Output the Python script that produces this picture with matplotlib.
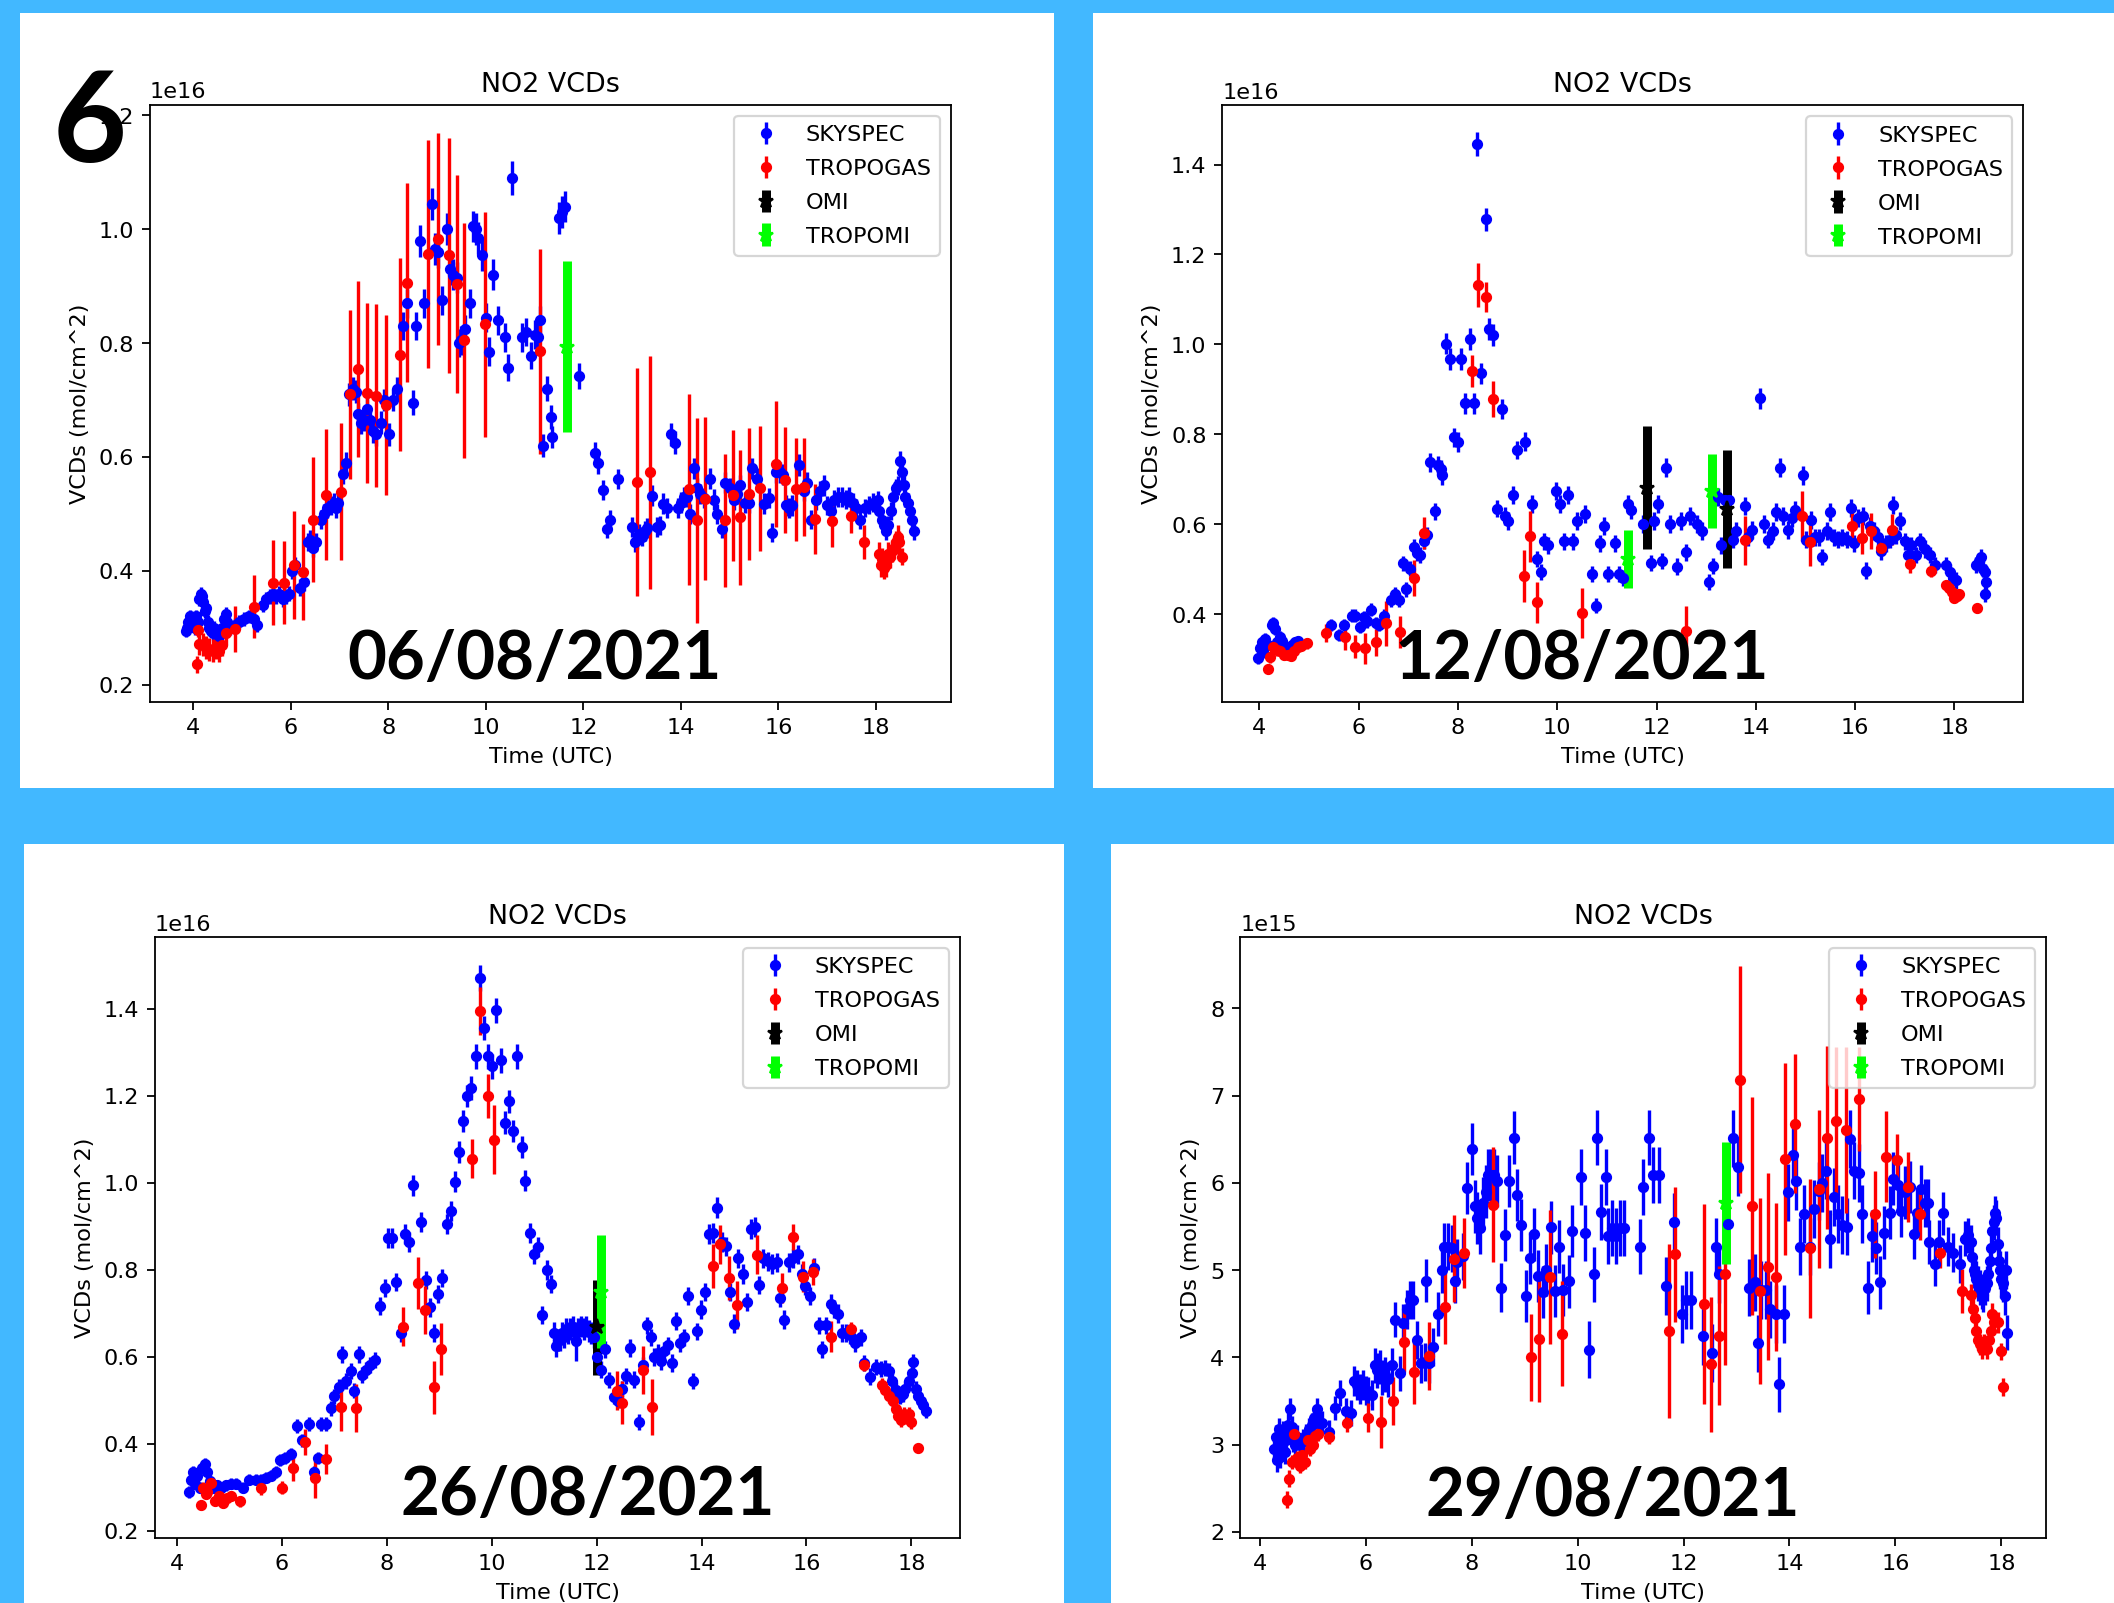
import numpy as np
import matplotlib.pyplot as plt
from matplotlib.patches import Rectangle

W, H = 2114, 1603
DPI = 161.5   # each panel is a default 6.4x4.8 figure blown up ~1.6x

# ---------------- data: (time UTC, VCD, error) ----------------
# 06/08/2021, VCD in 1e16 molec/cm^2
sky_0608 = [
    (3.85, .295, .012), (3.88, .30, .012), (3.9, .31, .012), (3.93, .32, .012), (3.96, .305, .012),
    (4.0, .315, .012), (4.03, .30, .012), (4.06, .32, .012), (4.1, .31, .012), (4.13, .35, .012),
    (4.16, .36, .012), (4.19, .355, .012), (4.21, .345, .012), (4.24, .33, .012), (4.27, .335, .012),
    (4.3, .31, .012), (4.33, .30, .012), (4.36, .295, .012), (4.4, .29, .012), (4.43, .30, .012),
    (4.47, .295, .012), (4.5, .29, .012), (4.53, .285, .012), (4.56, .29, .012), (4.6, .30, .012),
    (4.63, .315, .012), (4.67, .325, .012), (4.7, .31, .012), (4.75, .30, .012), (4.85, .305, .012),
    (4.95, .31, .012), (5.05, .315, .012), (5.15, .32, .012), (5.25, .315, .012), (5.32, .305, .012),
    (5.43, .34, .013), (5.5, .35, .013), (5.57, .355, .013), (5.63, .36, .013), (5.7, .355, .013),
    (5.77, .36, .013), (5.84, .35, .013), (5.9, .355, .013), (5.97, .36, .013), (6.02, .40, .015),
    (6.08, .41, .015), (6.2, .37, .015), (6.27, .38, .015), (6.35, .45, .016), (6.4, .455, .016),
    (6.45, .44, .016), (6.52, .45, .016), (6.62, .49, .017), (6.68, .50, .017), (6.75, .51, .017),
    (6.82, .515, .017), (6.88, .52, .017), (6.93, .51, .017), (6.98, .52, .017), (7.07, .57, .018),
    (7.14, .59, .018), (7.2, .71, .02), (7.28, .72, .02), (7.33, .715, .02), (7.38, .675, .02),
    (7.44, .66, .02), (7.5, .665, .02), (7.56, .685, .02), (7.62, .665, .02), (7.68, .645, .02),
    (7.74, .64, .02), (7.85, .66, .02), (7.92, .70, .02), (8.02, .64, .02), (8.1, .70, .02),
    (8.17, .72, .02), (8.3, .83, .025), (8.38, .87, .025), (8.5, .695, .022), (8.57, .83, .025),
    (8.66, .98, .028), (8.74, .87, .025), (8.89, 1.045, .028), (8.95, .965, .028), (9.02, .96, .028),
    (9.11, .875, .025), (9.2, 1.0, .028), (9.26, .93, .027), (9.32, .92, .027), (9.4, .915, .027),
    (9.46, .80, .025), (9.5, .805, .025), (9.57, .825, .025), (9.68, .87, .025), (9.73, 1.005, .028),
    (9.79, 1.0, .028), (9.85, .985, .028), (9.92, .955, .028), (10.0, .845, .025), (10.07, .785, .025),
    (10.15, .92, .027), (10.24, .84, .025), (10.39, .81, .025), (10.45, .757, .024), (10.54, 1.09, .03),
    (10.75, .81, .025), (10.82, .82, .025), (10.93, .778, .024), (11.0, .815, .025), (11.06, .81, .025),
    (11.12, .84, .025), (11.17, .62, .02), (11.25, .72, .022), (11.33, .67, .021), (11.36, .635, .02),
    (11.5, 1.02, .028), (11.57, 1.03, .028), (11.62, 1.04, .028), (11.92, .742, .023), (12.24, .607, .02),
    (12.3, .59, .02), (12.4, .542, .018), (12.48, .474, .017), (12.54, .49, .017), (12.72, .561, .018),
    (13.0, .477, .017), (13.05, .45, .017), (13.1, .455, .017), (13.15, .465, .017), (13.2, .46, .017),
    (13.26, .47, .017), (13.31, .475, .017), (13.4, .532, .018), (13.5, .477, .017), (13.57, .48, .017),
    (13.64, .518, .018), (13.72, .51, .018), (13.8, .64, .02), (13.87, .625, .02), (13.93, .51, .018),
    (14.0, .52, .018), (14.06, .53, .018), (14.12, .53, .018), (14.19, .50, .017), (14.26, .58, .019),
    (14.33, .545, .018), (14.4, .535, .018), (14.47, .528, .018), (14.6, .562, .018), (14.67, .525, .018),
    (14.74, .50, .017), (14.84, .474, .017), (14.91, .555, .018), (15.0, .545, .018), (15.08, .525, .018),
    (15.15, .535, .018), (15.22, .55, .018), (15.32, .52, .018), (15.39, .52, .018), (15.46, .58, .019),
    (15.56, .562, .018), (15.7, .518, .018), (15.8, .528, .018), (15.87, .467, .017), (15.94, .573, .019),
    (16.04, .573, .019), (16.1, .569, .019), (16.16, .515, .018), (16.22, .51, .018), (16.28, .515, .018),
    (16.42, .586, .019), (16.52, .54, .018), (16.59, .555, .018), (16.66, .49, .017), (16.77, .525, .018),
    (16.85, .54, .018), (16.93, .55, .018), (17.0, .515, .017), (17.07, .505, .017), (17.14, .525, .017),
    (17.22, .53, .017), (17.3, .53, .017), (17.38, .525, .017), (17.45, .53, .017), (17.52, .52, .017),
    (17.58, .51, .017), (17.68, .49, .016), (17.78, .51, .016), (17.86, .515, .016), (17.94, .52, .016),
    (18.03, .525, .016), (18.07, .505, .016), (18.12, .49, .016), (18.17, .48, .016), (18.21, .47, .016),
    (18.25, .48, .016), (18.3, .505, .016), (18.35, .53, .017), (18.4, .545, .017), (18.45, .55, .017),
    (18.5, .593, .018), (18.53, .573, .018), (18.57, .55, .017), (18.6, .53, .017), (18.65, .52, .017),
    (18.7, .505, .017), (18.74, .49, .016), (18.78, .47, .016),
]
trop_0608 = [
    (4.07, .236, .015), (4.1, .296, .012), (4.13, .272, .02), (4.2, .27, .02), (4.27, .265, .02),
    (4.33, .262, .02), (4.4, .26, .02), (4.47, .265, .02), (4.53, .26, .02), (4.6, .27, .02),
    (4.67, .29, .02), (4.85, .298, .04), (5.25, .337, .055), (5.64, .379, .075), (5.86, .379, .073),
    (6.06, .41, .095), (6.26, .398, .085), (6.45, .49, .11), (6.73, .534, .115), (7.04, .539, .12),
    (7.22, .71, .148), (7.39, .755, .155), (7.56, .713, .158), (7.74, .708, .16), (7.96, .692, .158),
    (8.24, .78, .17), (8.38, .906, .175), (8.81, .957, .2), (9.01, .983, .187), (9.25, .954, .207),
    (9.4, .904, .192), (9.56, .805, .206), (9.99, .833, .197), (11.12, .786, .18), (13.1, .556, .2),
    (13.37, .573, .205), (14.16, .543, .168), (14.32, .489, .18), (14.5, .527, .143), (14.91, .489, .117),
    (15.07, .533, .115), (15.22, .494, .118), (15.4, .535, .116), (15.63, .545, .11), (15.95, .588, .111),
    (16.13, .559, .093), (16.35, .543, .09), (16.53, .547, .086), (16.75, .491, .062), (17.1, .487, .045),
    (17.48, .497, .03), (17.75, .45, .03), (18.06, .43, .02), (18.1, .41, .02), (18.13, .42, .02),
    (18.17, .405, .02), (18.2, .41, .02), (18.24, .43, .02), (18.28, .425, .02), (18.32, .435, .02),
    (18.36, .44, .02), (18.4, .45, .02), (18.44, .46, .02), (18.47, .45, .02), (18.53, .425, .015),
]
omi_0608 = []
tropomi_0608 = [(11.66, .794, .15)]

# 12/08/2021, VCD in 1e16
sky_1208 = [
    (3.97, .302, .012), (4.01, .324, .012), (4.05, .337, .012), (4.08, .315, .012), (4.11, .345, .012),
    (4.18, .332, .012), (4.25, .376, .013), (4.28, .38, .013), (4.32, .367, .013), (4.35, .337, .012),
    (4.42, .35, .012), (4.45, .341, .012), (4.52, .328, .012), (4.59, .324, .012), (4.65, .332, .012),
    (4.72, .337, .012), (4.77, .34, .012), (5.45, .376, .013), (5.6, .354, .013), (5.7, .376, .013),
    (5.87, .397, .014), (5.93, .397, .014), (6.02, .371, .013), (6.1, .393, .014), (6.17, .384, .014),
    (6.24, .41, .014), (6.34, .38, .014), (6.4, .376, .014), (6.5, .397, .014), (6.64, .432, .015),
    (6.73, .445, .015), (6.81, .432, .015), (6.89, .513, .017), (6.96, .455, .016), (7.04, .501, .017),
    (7.12, .549, .018), (7.18, .536, .018), (7.23, .532, .018), (7.31, .562, .018), (7.37, .575, .018),
    (7.43, .738, .021), (7.53, .629, .019), (7.6, .731, .021), (7.65, .722, .021), (7.68, .709, .021),
    (7.76, 1.002, .024), (7.84, .967, .024), (7.92, .793, .022), (8.0, .783, .022), (8.07, .967, .024),
    (8.15, .869, .023), (8.24, 1.012, .024), (8.32, .869, .023), (8.39, 1.445, .027), (8.47, .936, .023),
    (8.56, 1.278, .026), (8.63, 1.034, .024), (8.71, 1.021, .024), (8.79, .635, .02), (8.88, .856, .022),
    (8.94, .618, .02), (9.0, .607, .02), (9.11, .666, .02), (9.19, .765, .021), (9.35, .784, .021),
    (9.5, .644, .02), (9.59, .523, .018), (9.67, .493, .018), (9.74, .562, .019), (9.82, .553, .019),
    (9.97, .673, .02), (10.06, .644, .02), (10.14, .562, .019), (10.22, .666, .02), (10.31, .562, .019),
    (10.39, .607, .02), (10.55, .623, .02), (10.69, .49, .018), (10.78, .419, .017), (10.86, .558, .019),
    (10.94, .595, .02), (11.02, .49, .018), (11.17, .558, .019), (11.25, .49, .018), (11.33, .48, .018),
    (11.42, .644, .02), (11.48, .631, .02), (11.72, .60, .02), (11.88, .514, .018), (11.95, .607, .02),
    (12.03, .644, .02), (12.11, .519, .018), (12.19, .726, .021), (12.27, .60, .02), (12.42, .506, .018),
    (12.5, .607, .02), (12.59, .538, .019), (12.67, .618, .02), (12.82, .60, .02), (12.91, .584, .02),
    (13.05, .471, .018), (13.14, .507, .018), (13.23, .661, .02), (13.3, .553, .019), (13.38, .653, .02),
    (13.46, .653, .02), (13.53, .566, .019), (13.61, .584, .02), (13.78, .64, .02), (13.85, .571, .019),
    (13.93, .588, .02), (14.08, .88, .023), (14.16, .601, .02), (14.25, .566, .019), (14.34, .584, .02),
    (14.4, .627, .02), (14.48, .726, .021), (14.55, .618, .02), (14.65, .588, .02), (14.72, .614, .02),
    (14.79, .631, .02), (14.95, .709, .021), (15.02, .566, .019), (15.12, .61, .02), (15.19, .571, .019),
    (15.28, .571, .019), (15.34, .527, .018), (15.44, .584, .02), (15.5, .627, .02), (15.57, .571, .019),
    (15.66, .566, .019), (15.74, .571, .019), (15.83, .566, .019), (15.91, .636, .02), (15.97, .558, .019),
    (16.06, .614, .02), (16.15, .618, .02), (16.21, .497, .018), (16.3, .597, .02), (16.38, .584, .02),
    (16.46, .571, .019), (16.53, .54, .019), (16.62, .558, .019), (16.7, .566, .019), (16.77, .642, .02),
    (16.83, .575, .019), (16.91, .607, .02), (17.0, .562, .019), (17.07, .532, .018), (17.13, .553, .019),
    (17.22, .532, .018), (17.3, .562, .019), (17.4, .545, .019), (17.5, .532, .018), (17.6, .51, .018),
    (17.84, .51, .018), (17.91, .493, .018), (17.97, .48, .018), (18.04, .475, .018), (18.44, .51, .018),
    (18.5, .519, .018), (18.54, .527, .018), (18.58, .501, .018), (18.61, .493, .018), (18.63, .471, .018),
    (18.61, .445, .017),
]
trop_1208 = [
    (4.17, .279, .01), (4.22, .304, .012), (4.28, .326, .012), (4.35, .32, .012), (4.42, .318, .012),
    (4.5, .31, .012), (4.57, .31, .012), (4.63, .307, .012), (4.7, .318, .012), (4.77, .327, .012),
    (4.83, .33, .012), (4.96, .335, .012), (5.35, .357, .02), (5.73, .35, .03), (5.93, .328, .025),
    (6.13, .324, .035), (6.34, .337, .03), (6.54, .38, .05), (6.83, .36, .035), (7.12, .481, .04),
    (7.31, .581, .035), (8.28, .941, .035), (8.4, 1.132, .049), (8.56, 1.106, .033), (8.71, .878, .04),
    (9.32, .484, .058), (9.45, .573, .057), (9.6, .426, .045), (10.5, .402, .056), (12.6, .363, .056),
    (13.78, .564, .054), (14.92, .618, .056), (15.09, .56, .053), (15.93, .597, .035), (16.13, .569, .035),
    (16.33, .586, .04), (16.53, .547, .015), (16.75, .588, .035), (17.11, .512, .02), (17.52, .497, .015),
    (17.84, .464, .01), (17.9, .458, .01), (17.95, .45, .01), (18.0, .435, .01), (18.05, .44, .01),
    (18.1, .445, .01), (18.46, .413, .01),
]
omi_1208 = [(11.8, .681, .137), (13.42, .634, .132)]
tropomi_1208 = [(11.43, .523, .065), (13.11, .674, .082)]

# 26/08/2021, VCD in 1e16
sky_2608 = [
    (4.23, .29, .013), (4.26, .318, .013), (4.3, .336, .013), (4.34, .309, .013), (4.38, .327, .013),
    (4.43, .30, .013), (4.48, .345, .013), (4.53, .355, .013), (4.58, .336, .013), (4.63, .314, .013),
    (4.68, .30, .013), (4.76, .305, .013), (4.83, .30, .013), (4.93, .305, .013), (5.03, .309, .013),
    (5.13, .309, .013), (5.26, .30, .013), (5.38, .318, .013), (5.5, .318, .013), (5.6, .318, .013),
    (5.7, .323, .013), (5.8, .327, .013), (5.88, .336, .013), (5.96, .364, .014), (6.06, .368, .014),
    (6.18, .377, .014), (6.28, .441, .016), (6.38, .409, .015), (6.51, .445, .016), (6.61, .336, .014),
    (6.68, .368, .014), (6.75, .445, .016), (6.83, .445, .016), (6.93, .482, .017), (7.0, .51, .017),
    (7.08, .532, .018), (7.15, .606, .019), (7.23, .545, .018), (7.31, .568, .018), (7.38, .523, .018),
    (7.46, .606, .019), (7.53, .559, .018), (7.6, .57, .018), (7.68, .582, .019), (7.78, .593, .019),
    (7.86, .718, .021), (7.96, .759, .021), (8.03, .873, .023), (8.1, .873, .023), (8.18, .773, .021),
    (8.26, .655, .02), (8.34, .882, .023), (8.42, .864, .023), (8.5, .995, .024), (8.65, .911, .023),
    (8.75, .777, .021), (8.83, .714, .021), (8.9, .655, .02), (8.98, .745, .021), (9.06, .782, .021),
    (9.14, .905, .023), (9.22, .936, .023), (9.3, 1.003, .024), (9.38, 1.071, .025), (9.45, 1.143, .026),
    (9.53, 1.20, .026), (9.61, 1.218, .027), (9.69, 1.291, .028), (9.77, 1.471, .03), (9.85, 1.356, .028),
    (9.93, 1.291, .028), (10.01, 1.268, .028), (10.09, 1.397, .029), (10.17, 1.282, .028), (10.25, 1.139, .026),
    (10.33, 1.188, .026), (10.41, 1.12, .026), (10.49, 1.291, .028), (10.57, 1.082, .025), (10.64, 1.005, .024),
    (10.72, .885, .023), (10.8, .836, .022), (10.88, .853, .022), (10.96, .697, .021), (11.05, .80, .022),
    (11.13, .768, .021), (11.18, .655, .025), (11.22, .625, .025), (11.26, .64, .025), (11.3, .64, .025),
    (11.34, .655, .025), (11.38, .645, .025), (11.42, .665, .025), (11.46, .655, .025), (11.5, .665, .025),
    (11.55, .67, .025), (11.61, .636, .045), (11.65, .665, .025), (11.7, .67, .025), (11.75, .665, .025),
    (11.8, .67, .025), (11.85, .66, .025), (11.9, .655, .025), (11.94, .645, .025), (12.01, .60, .02),
    (12.08, .571, .02), (12.16, .618, .02), (12.24, .547, .019), (12.33, .509, .018), (12.4, .50, .018),
    (12.48, .527, .018), (12.56, .556, .019), (12.64, .621, .02), (12.72, .548, .019), (12.8, .45, .018),
    (12.88, .582, .019), (12.96, .673, .02), (13.04, .645, .02), (13.1, .60, .02), (13.16, .61, .02),
    (13.22, .59, .02), (13.28, .614, .02), (13.36, .627, .02), (13.43, .586, .02), (13.51, .682, .021),
    (13.58, .632, .02), (13.66, .645, .02), (13.75, .741, .021), (13.83, .545, .019), (13.91, .659, .02),
    (13.98, .709, .021), (14.06, .75, .021), (14.14, .882, .023), (14.22, .886, .023), (14.3, .943, .024),
    (14.38, .864, .023), (14.46, .855, .022), (14.54, .75, .021), (14.62, .677, .021), (14.7, .827, .022),
    (14.78, .791, .022), (14.86, .727, .021), (14.94, .894, .023), (15.02, .898, .023), (15.1, .766, .021),
    (15.18, .827, .022), (15.26, .82, .022), (15.34, .814, .022), (15.43, .818, .022), (15.5, .736, .021),
    (15.58, .686, .021), (15.66, .818, .022), (15.74, .827, .022), (15.83, .836, .022), (15.91, .791, .022),
    (15.98, .764, .021), (16.06, .741, .021), (16.14, .805, .022), (16.23, .673, .02), (16.29, .618, .02),
    (16.38, .673, .02), (16.46, .723, .021), (16.53, .71, .021), (16.6, .70, .021), (16.68, .655, .02),
    (16.75, .655, .02), (16.83, .65, .02), (16.93, .632, .02), (17.03, .645, .02), (17.1, .586, .019),
    (17.22, .555, .019), (17.33, .577, .019), (17.42, .573, .019), (17.5, .575, .019), (17.58, .568, .019),
    (17.63, .545, .019), (17.7, .525, .018), (17.78, .509, .018), (17.84, .515, .018), (17.88, .527, .018),
    (17.95, .545, .019), (18.01, .564, .019), (18.03, .588, .019), (18.08, .527, .018), (18.13, .51, .018),
    (18.18, .50, .018), (18.23, .49, .018), (18.28, .477, .017),
]
trop_2608 = [
    (4.45, .259, .01), (4.5, .30, .012), (4.55, .285, .012), (4.58, .29, .012), (4.65, .31, .012),
    (4.72, .27, .012), (4.8, .28, .012), (4.88, .265, .012), (4.95, .275, .012), (5.03, .28, .012),
    (5.2, .268, .012), (5.6, .298, .015), (6.0, .30, .015), (6.21, .344, .03), (6.44, .405, .03),
    (6.63, .321, .045), (6.84, .366, .035), (7.12, .485, .055), (7.41, .482, .055), (8.3, .67, .045),
    (8.59, .77, .06), (8.72, .709, .055), (8.9, .53, .06), (9.03, .618, .06), (9.62, 1.056, .045),
    (9.77, 1.395, .055), (9.92, 1.20, .05), (10.04, 1.10, .08), (12.38, .523, .045), (12.48, .495, .05),
    (12.88, .571, .055), (13.05, .485, .065), (14.22, .809, .05), (14.36, .859, .045), (14.52, .782, .05),
    (14.68, .72, .055), (15.06, .835, .045), (15.54, .759, .035), (15.74, .875, .03), (15.93, .785, .035),
    (16.13, .795, .03), (16.46, .647, .035), (16.84, .665, .015), (17.1, .582, .015), (17.43, .536, .015),
    (17.5, .525, .015), (17.58, .51, .015), (17.65, .50, .015), (17.7, .48, .015), (17.75, .465, .015),
    (17.8, .455, .015), (17.85, .47, .015), (17.9, .46, .015), (17.95, .47, .015), (18.0, .45, .015),
    (18.13, .391, .01),
]
omi_2608 = [(12.0, .668, .109)]
tropomi_2608 = [(12.08, .75, .13)]

# 29/08/2021, VCD in 1e15
sky_2908 = [
    (4.27, 2.95, .13), (4.3, 3.09, .13), (4.33, 2.82, .13), (4.35, 3.0, .13), (4.37, 3.18, .13),
    (4.39, 2.86, .13), (4.41, 3.02, .13), (4.44, 3.14, .13), (4.47, 2.91, .13), (4.5, 3.05, .13),
    (4.54, 3.23, .13), (4.57, 3.41, .13), (4.6, 3.2, .13), (4.63, 3.05, .13), (4.66, 3.0, .13),
    (4.71, 3.09, .13), (4.76, 3.0, .13), (4.82, 3.05, .13), (4.88, 3.11, .13), (4.93, 3.18, .13),
    (4.98, 3.23, .13), (5.02, 3.3, .13), (5.07, 3.41, .13), (5.12, 3.25, .13), (5.18, 3.25, .13),
    (5.31, 3.15, .13), (5.42, 3.42, .14), (5.52, 3.59, .15), (5.62, 3.39, .15), (5.72, 3.36, .15),
    (5.78, 3.73, .17), (5.83, 3.68, .17), (5.89, 3.64, .17), (5.94, 3.68, .17), (6.0, 3.62, .17),
    (6.05, 3.61, .17), (6.11, 3.57, .17), (6.17, 3.91, .2), (6.22, 3.85, .2), (6.27, 3.89, .2),
    (6.3, 3.77, .2), (6.36, 3.8, .2), (6.42, 3.75, .2), (6.49, 3.91, .2), (6.56, 4.43, .2),
    (6.64, 3.82, .2), (6.71, 4.39, .22), (6.77, 4.55, .22), (6.83, 4.66, .22), (6.9, 4.66, .22),
    (6.97, 4.2, .22), (7.04, 3.93, .22), (7.12, 3.95, .22), (7.13, 4.88, .25), (7.2, 3.93, .22),
    (7.27, 4.12, .22), (7.36, 4.5, .25), (7.43, 5.0, .26), (7.48, 5.27, .27), (7.55, 5.27, .27),
    (7.62, 5.25, .27), (7.68, 4.88, .26), (7.73, 5.09, .27), (7.83, 5.16, .27), (7.92, 5.94, .3),
    (8.0, 6.39, .3), (8.06, 5.73, .3), (8.1, 5.6, .3), (8.16, 5.48, .3), (8.22, 5.77, .3),
    (8.27, 5.9, .3), (8.31, 6.09, .3), (8.36, 6.09, .3), (8.42, 6.09, .3), (8.48, 6.02, .3),
    (8.55, 4.8, .28), (8.63, 5.4, .3), (8.7, 6.02, .3), (8.79, 6.52, .3), (8.86, 5.86, .3),
    (8.94, 5.52, .3), (9.03, 4.7, .3), (9.1, 5.14, .3), (9.18, 5.41, .3), (9.26, 4.93, .3),
    (9.34, 4.75, .3), (9.4, 5.0, .3), (9.49, 5.49, .3), (9.57, 4.76, .3), (9.65, 5.27, .3),
    (9.72, 4.77, .3), (9.83, 4.87, .3), (9.89, 5.45, .3), (10.06, 6.07, .32), (10.14, 5.43, .32),
    (10.22, 4.09, .33), (10.3, 4.95, .32), (10.37, 6.52, .32), (10.45, 5.67, .32), (10.54, 6.07, .32),
    (10.58, 5.39, .32), (10.64, 5.48, .32), (10.72, 5.39, .32), (10.8, 5.48, .32), (10.87, 5.48, .32),
    (11.17, 5.27, .32), (11.24, 5.95, .32), (11.34, 6.52, .32), (11.43, 6.09, .32), (11.53, 6.09, .32),
    (11.67, 4.82, .33), (11.81, 5.55, .33), (11.97, 4.5, .33), (12.04, 4.66, .33), (12.14, 4.66, .33),
    (12.37, 4.24, .33), (12.53, 4.05, .33), (12.61, 5.27, .33), (12.67, 4.95, .33), (12.84, 5.53, .33),
    (12.94, 6.51, .33), (13.02, 6.18, .33), (13.24, 4.8, .33), (13.34, 4.86, .33), (13.41, 4.16, .33),
    (13.46, 4.77, .33), (13.56, 4.77, .33), (13.64, 4.55, .33), (13.75, 4.5, .33), (13.81, 3.69, .32),
    (13.89, 4.5, .33), (13.97, 5.89, .33), (14.06, 6.32, .33), (14.12, 6.02, .33), (14.2, 5.27, .33),
    (14.28, 5.64, .33), (14.38, 5.27, .33), (14.47, 5.7, .33), (14.56, 5.91, .33), (14.62, 6.0, .33),
    (14.69, 6.14, .33), (14.77, 5.36, .33), (14.84, 5.84, .33), (14.91, 5.64, .33), (15.0, 5.52, .33),
    (15.09, 5.5, .33), (15.15, 6.5, .33), (15.21, 6.14, .33), (15.32, 6.11, .33), (15.36, 5.64, .33),
    (15.48, 4.8, .3), (15.55, 5.39, .3), (15.64, 5.25, .3), (15.7, 4.86, .3), (15.78, 5.43, .3),
    (15.89, 5.66, .3), (15.95, 6.05, .3), (16.05, 5.98, .3), (16.11, 5.68, .3), (16.19, 5.89, .3),
    (16.27, 5.95, .3), (16.35, 5.41, .28), (16.41, 5.66, .28), (16.49, 5.93, .28), (16.55, 5.77, .28),
    (16.61, 5.77, .28), (16.64, 5.32, .25), (16.74, 5.07, .25), (16.82, 5.32, .25), (16.9, 5.65, .25),
    (16.99, 5.27, .22), (17.09, 5.2, .22), (17.21, 5.07, .22), (17.31, 5.36, .2), (17.37, 5.4, .2),
    (17.43, 5.32, .2), (17.45, 5.15, .2), (17.48, 5.0, .2), (17.5, 4.95, .2), (17.53, 4.9, .2),
    (17.56, 4.85, .2), (17.6, 4.8, .2), (17.63, 4.75, .2), (17.66, 4.72, .2), (17.69, 4.8, .2),
    (17.72, 4.85, .2), (17.75, 4.95, .2), (17.78, 5.1, .2), (17.8, 5.25, .2), (17.83, 5.45, .2),
    (17.86, 5.55, .2), (17.88, 5.65, .2), (17.9, 5.6, .2), (17.93, 5.3, .2), (17.95, 5.1, .22),
    (17.98, 5.0, .22), (18.0, 4.9, .22), (18.03, 4.85, .22), (18.06, 4.7, .22), (18.08, 5.0, .22),
    (18.1, 4.28, .2),
]
trop_2908 = [
    (4.52, 2.37, .1), (4.55, 2.61, .1), (4.6, 2.8, .08), (4.65, 3.12, .08), (4.7, 2.85, .08),
    (4.75, 2.75, .08), (4.8, 2.88, .08), (4.85, 2.8, .08), (4.9, 3.05, .08), (4.95, 2.95, .08),
    (5.0, 3.0, .08), (5.05, 3.1, .08), (5.1, 3.12, .08), (5.3, 3.09, .08), (5.65, 3.25, .1),
    (6.05, 3.31, .17), (6.29, 3.26, .3), (6.51, 3.5, .28), (6.72, 4.18, .35), (6.92, 3.83, .37),
    (7.19, 4.02, .39), (7.49, 4.58, .43), (7.67, 5.13, .5), (7.85, 5.2, .4), (8.41, 5.75, .66),
    (9.12, 4.0, .5), (9.28, 4.21, .72), (9.47, 4.92, .77), (9.7, 4.27, .6), (11.73, 4.3, 1.0),
    (11.84, 5.18, .77), (12.38, 4.61, 1.15), (12.52, 3.92, .77), (12.66, 4.25, .8), (12.79, 4.96, 1.05),
    (13.06, 7.18, 1.3), (13.3, 5.74, 1.25), (13.44, 4.76, 1.07), (13.59, 5.04, 1.07), (13.75, 4.92, .85),
    (13.92, 6.27, 1.1), (14.11, 6.68, .8), (14.38, 5.25, .8), (14.55, 5.93, .9), (14.71, 6.52, 1.05),
    (14.88, 6.71, .85), (15.06, 6.61, .95), (15.31, 6.96, .6), (15.62, 5.64, .5), (15.82, 6.3, .52),
    (16.03, 6.26, .3), (16.23, 5.95, .4), (16.47, 5.64, .3), (16.85, 5.2, .18), (17.25, 4.76, .25),
    (17.43, 4.72, .12), (17.47, 4.55, .12), (17.5, 4.45, .12), (17.53, 4.3, .12), (17.56, 4.2, .12),
    (17.6, 4.15, .12), (17.64, 4.1, .12), (17.68, 4.15, .12), (17.72, 4.1, .12), (17.76, 4.2, .12),
    (17.8, 4.3, .12), (17.83, 4.5, .12), (17.87, 4.4, .12), (17.93, 4.4, .12), (17.99, 4.07, .1),
    (18.03, 3.66, .1),
]
omi_2908 = []
tropomi_2908 = [(12.81, 5.77, .7)]

dates = ['06/08/2021', '12/08/2021', '26/08/2021', '29/08/2021']
scales = [1e16, 1e16, 1e16, 1e15]

# ---------------- layout (pixels of the 2114x1603 image) ----------------
# white card: x0, y0, x1, y1 ; axes: left, top, right, bottom
panels = [
    dict(card=(20, 13, 1054, 788), ax=(150, 105, 951, 702), xlim=(3.117, 19.54), ylim=(0.170, 1.219),
         date_xy=(347, 679), data=(sky_0608, trop_0608, omi_0608, tropomi_0608)),
    dict(card=(1093, 13, 2114, 788), ax=(1222, 105.6, 2023, 702.5), xlim=(3.25, 19.39), ylim=(0.204, 1.532),
         date_xy=(1394, 679), data=(sky_1208, trop_1208, omi_1208, tropomi_1208)),
    dict(card=(24, 844, 1064, 1603), ax=(155, 937, 960, 1538), xlim=(3.58, 18.93), ylim=(0.184, 1.566),
         date_xy=(400, 1515), data=(sky_2608, trop_2608, omi_2608, tropomi_2608)),
    dict(card=(1111, 844, 2114, 1603), ax=(1240, 937, 2046, 1538), xlim=(3.63, 18.85), ylim=(1.93, 8.82),
         date_xy=(1425, 1516), data=(sky_2908, trop_2908, omi_2908, tropomi_2908)),
]


def cols(rows):
    if not rows:
        return np.array([]), np.array([]), np.array([])
    a = np.array(rows, dtype=float)
    return a[:, 0], a[:, 1], a[:, 2]


fig = plt.figure(figsize=((W + 0.4) / DPI, (H + 0.4) / DPI), dpi=DPI, facecolor='#42b8ff')

for i, p in enumerate(panels):
    x0, y0, x1, y1 = p['card']
    fig.add_artist(Rectangle((x0 / W, 1 - y1 / H), (x1 - x0) / W, (y1 - y0) / H,
                             transform=fig.transFigure, facecolor='white',
                             edgecolor='none', zorder=-5))
    l, t, r, b = p['ax']
    ax = fig.add_axes([l / W, 1 - b / H, (r - l) / W, (b - t) / H])
    s = scales[i]
    sky, trop, omi, tpm = p['data']

    x, y, e = cols(sky)
    ax.errorbar(x, y * s, yerr=e * s, fmt='o', color='blue', ms=4, label='SKYSPEC')
    x, y, e = cols(trop)
    ax.errorbar(x, y * s, yerr=e * s, fmt='o', color='red', ms=4, label='TROPOGAS')
    x, y, e = cols(omi)
    ax.errorbar(x, y * s, yerr=e * s, fmt='*', color='black', ms=7, elinewidth=4, label='OMI')
    x, y, e = cols(tpm)
    ax.errorbar(x, y * s, yerr=e * s, fmt='*', color='lime', ms=7, elinewidth=4, label='TROPOMI')

    ax.set_xlim(*p['xlim'])
    ax.set_ylim(p['ylim'][0] * s, p['ylim'][1] * s)
    ax.set_title('NO2 VCDs')
    ax.set_xlabel('Time (UTC)')
    ax.set_ylabel('VCDs (mol/cm^2)')
    ax.legend(loc='upper right', labelspacing=0.62)

    dx, dy = p['date_xy']
    fig.text(dx / W, 1 - dy / H, dates[i], fontsize=30, fontweight='bold',
             family=['Lato', 'DejaVu Sans'], ha='left', va='baseline', zorder=10)

# panel number, drawn over the first axes like in the original slide
fig.text(53 / W, 1 - 162 / H, '6', fontsize=57, fontweight='bold',
         family=['Lato', 'DejaVu Sans'], ha='left', va='baseline', zorder=10)

fig.savefig('out.png', dpi=DPI, facecolor=fig.get_facecolor())
